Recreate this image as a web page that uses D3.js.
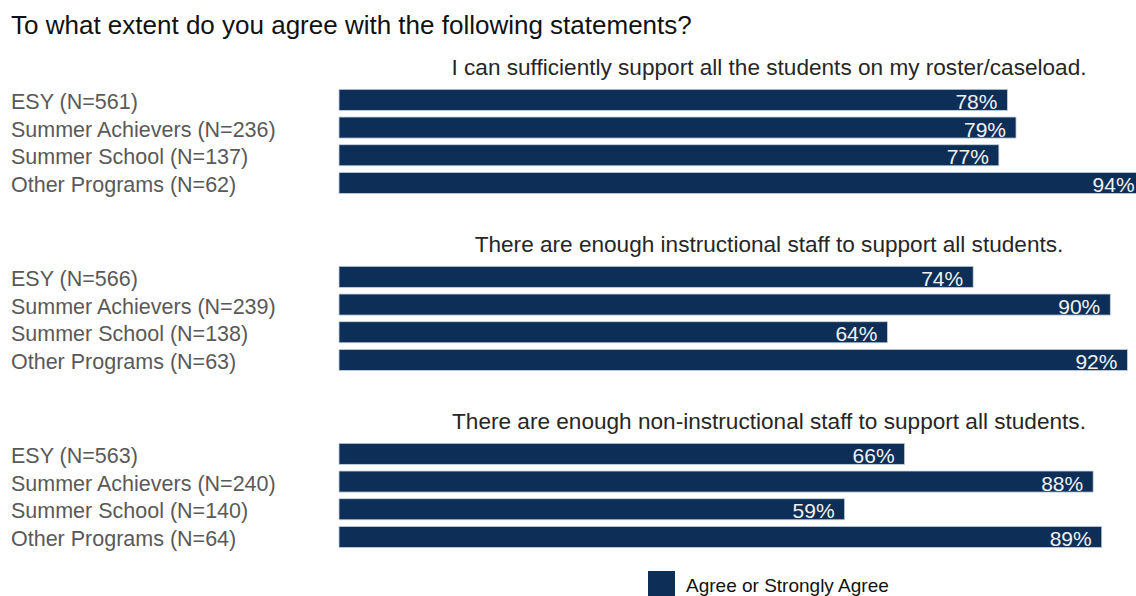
<!DOCTYPE html>
<html>
<head>
<meta charset="utf-8">
<script src="https://cdn.jsdelivr.net/npm/d3@7"></script>
<style>
  html, body { margin: 0; padding: 0; background: #fff; }
  svg { display: block; font-family: "Liberation Sans", Arial, sans-serif; }
</style>
</head>
<body>
<svg id="chart" width="1136" height="596"></svg>
<script>
// Survey questions (one panel each)
const statements = [
  "I can sufficiently support all the students on my roster/caseload.",
  "There are enough instructional staff to support all students.",
  "There are enough non-instructional staff to support all students."
];

// Program groups, with respondent counts per statement
const programs = ["ESY", "Summer Achievers", "Summer School", "Other Programs"];
const counts = [
  [561, 236, 137, 62],
  [566, 239, 138, 63],
  [563, 240, 140, 64]
];

// Share answering "Agree or Strongly Agree"
const agreeShares = [
  [0.78, 0.79, 0.77, 0.94],
  [0.74, 0.90, 0.64, 0.92],
  [0.66, 0.88, 0.59, 0.89]
];

const seriesName = "Agree or Strongly Agree";
const chartTitle = "To what extent do you agree with the following statements?";

const barColor = "#0d2f57";
const svg = d3.select("#chart");

const x = d3.scaleLinear().domain([0, 1]).range([339, 1196]);

// Vertical placement of each panel
const panelTop = d3.scaleLinear().domain([0, 1]).range([86, 263]);

svg.append("text")
  .attr("x", 11).attr("y", 34)
  .attr("font-size", 26)
  .attr("fill", "#111")
  .text(chartTitle);

statements.forEach((stmt, i) => {
  const top = panelTop(i);
  const y = d3.scaleBand()
    .domain(programs)
    .range([top, top + 4 * 27.7])
    .paddingInner(0.24)
    .paddingOuter(0.12);

  const g = svg.append("g");

  g.append("text")
    .attr("x", 769).attr("y", top - 11)
    .attr("text-anchor", "middle")
    .attr("font-size", 22.6)
    .attr("fill", "#262626")
    .text(stmt);

  const rows = programs.map((p, j) => ({
    program: p, n: counts[i][j], v: agreeShares[i][j]
  }));

  g.selectAll("text.cat")
    .data(rows).join("text")
    .attr("class", "cat")
    .attr("x", 11)
    .attr("y", d => y(d.program) + y.bandwidth() / 2)
    .attr("dy", "0.42em")
    .attr("font-size", 21.5)
    .attr("fill", "#595959")
    .text(d => `${d.program} (N=${d.n})`);

  g.selectAll("rect")
    .data(rows).join("rect")
    .attr("x", x(0))
    .attr("y", d => y(d.program))
    .attr("width", d => x(d.v) - x(0))
    .attr("height", y.bandwidth())
    .attr("fill", barColor)
    .attr("stroke", "#c5d0dd")
    .attr("stroke-width", 0.8);

  g.selectAll("text.val")
    .data(rows).join("text")
    .attr("class", "val")
    .attr("x", d => x(d.v) - 10)
    .attr("y", d => y(d.program) + y.bandwidth() / 2)
    .attr("dy", "0.43em")
    .attr("text-anchor", "end")
    .attr("font-size", 21)
    .attr("fill", "#f2f2f2")
    .text(d => d3.format(".0%")(d.v));
});

// Legend
const legend = svg.append("g").attr("transform", "translate(648,571)");
legend.append("rect")
  .attr("width", 27).attr("height", 27)
  .attr("fill", barColor);
legend.append("text")
  .attr("x", 38).attr("y", 14)
  .attr("dy", "0.35em")
  .attr("font-size", 19)
  .attr("fill", "#111")
  .text(seriesName);
</script>
</body>
</html>
